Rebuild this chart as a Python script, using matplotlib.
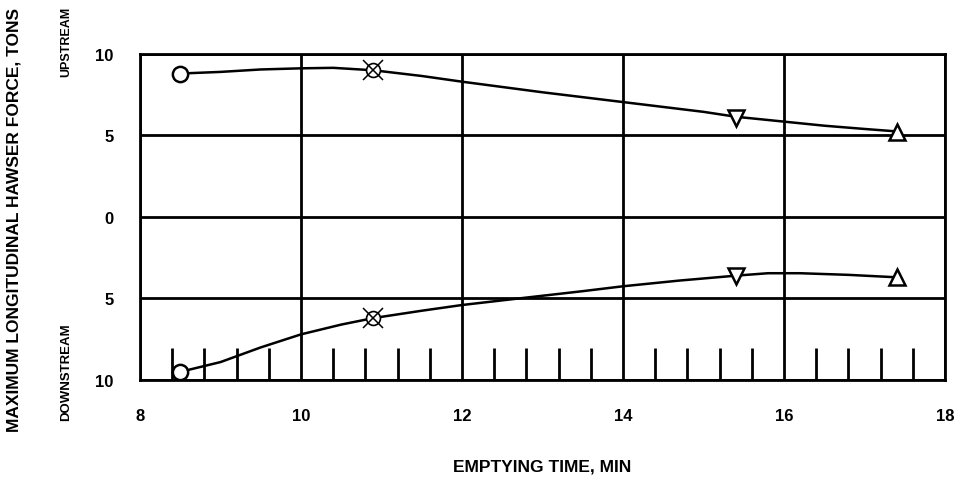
import numpy as np
import matplotlib
matplotlib.use('Agg')
import matplotlib.pyplot as plt
import matplotlib.ticker as mtick

plt.rcParams['font.family'] = ['Liberation Sans', 'DejaVu Sans']

# marker positions (x = emptying time, min; y = force, tons; downstream negative)
x_points = [8.5, 10.9, 15.4, 17.4]
upstream_points = [8.8, 9.0, 6.1, 5.2]
downstream_points = [-9.5, -6.2, -3.6, -3.7]

# faired curves
up_curve_x = [8.5, 9.0, 9.5, 10.0, 10.4, 10.9, 11.5, 12.0, 13.0, 14.0, 15.0, 15.4, 16.0, 16.5, 17.0, 17.4]
up_curve_y = [8.8, 8.9, 9.05, 9.12, 9.15, 9.0, 8.65, 8.3, 7.65, 7.05, 6.45, 6.15, 5.85, 5.6, 5.4, 5.25]
dn_curve_x = [8.5, 9.0, 9.5, 10.0, 10.5, 10.9, 11.5, 12.0, 12.7, 13.5, 14.0, 14.7, 15.4, 15.8, 16.2, 16.8, 17.4]
dn_curve_y = [-9.5, -8.9, -8.0, -7.2, -6.6, -6.2, -5.75, -5.4, -5.0, -4.55, -4.25, -3.9, -3.6, -3.45, -3.45, -3.55, -3.7]

x_major = [8, 10, 12, 14, 16, 18]
y_major = [10, 5, 0, -5, -10]
x_minor = np.arange(8.4, 17.7, 0.4)

fig = plt.figure(figsize=(9.61, 4.81), dpi=100)
ax = fig.add_axes([0.1457, 0.2079, 0.8377, 0.6778])

ax.plot(up_curve_x, up_curve_y, color='black', lw=1.8, zorder=3)
ax.plot(dn_curve_x, dn_curve_y, color='black', lw=1.8, zorder=3)

mk = dict(color='black', mfc='white', mec='black', ls='none', zorder=4)
for ys in (upstream_points, downstream_points):
    ax.plot(x_points[0], ys[0], marker='o', ms=11, mew=1.8, **mk)
    ax.plot(x_points[1], ys[1], marker='o', ms=10, mew=1.2, **mk)
    ax.plot(x_points[1], ys[1], marker='x', ms=15, mew=1.1, color='black', ls='none', zorder=5)
    ax.plot(x_points[2], ys[2], marker='v', ms=11, mew=1.8, **mk)
    ax.plot(x_points[3], ys[3], marker='^', ms=11, mew=1.8, **mk)

ax.set_xlim(8, 18)
ax.set_ylim(-10, 10)
ax.set_xticks(x_major)
ax.set_yticks(y_major)
ax.set_xticks(x_minor, minor=True)
ax.grid(True, which='major', color='black', lw=2)
ax.yaxis.set_major_formatter(mtick.FuncFormatter(lambda v, p: f"{abs(v):g}"))

ax.tick_params(which='major', length=0, labelsize=12)
ax.tick_params(axis='x', which='major', pad=20)
ax.tick_params(axis='y', which='major', pad=19)
ax.tick_params(which='minor', direction='in', length=23, width=2, color='black')
for lab in ax.get_xticklabels() + ax.get_yticklabels():
    lab.set_fontweight('bold')
for s in ax.spines.values():
    s.set_linewidth(2)

ax.set_xlabel('EMPTYING TIME, MIN', fontsize=12.5, fontweight='bold', labelpad=26)

fig.text(0.0146, 0.543, 'MAXIMUM LONGITUDINAL HAWSER FORCE, TONS', rotation=90,
         ha='center', va='center', fontsize=12.5, fontweight='bold')
fig.text(0.069, 0.913, 'UPSTREAM', rotation=90, ha='center', va='center',
         fontsize=9, fontweight='bold')
fig.text(0.069, 0.227, 'DOWNSTREAM', rotation=90, ha='center', va='center',
         fontsize=9.5, fontweight='bold')

plt.savefig('out.png', dpi=100)
plt.close()
